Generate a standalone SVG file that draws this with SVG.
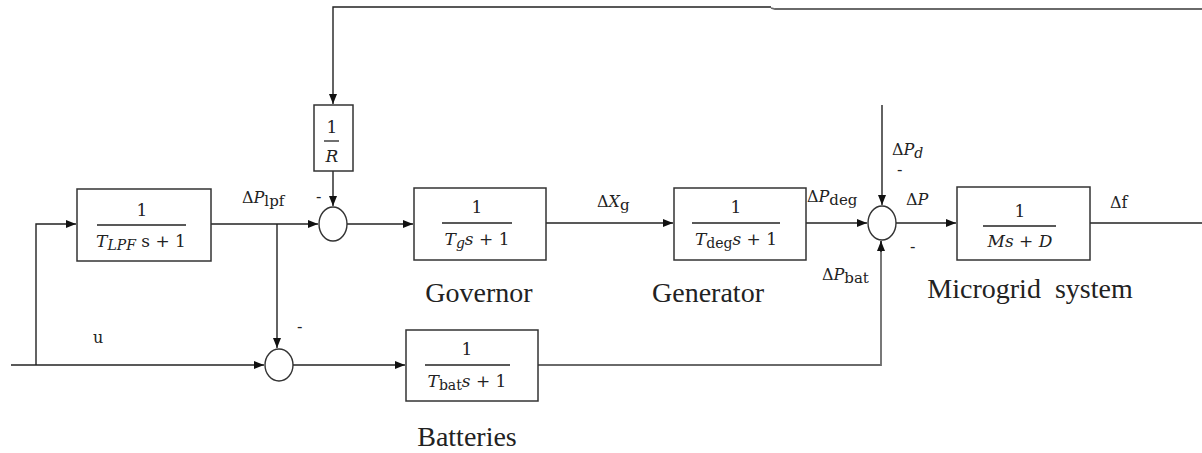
<svg xmlns="http://www.w3.org/2000/svg" width="1202" height="453" viewBox="0 0 1202 453">
<defs>
<marker id="arr" viewBox="0 0 10 8" refX="10" refY="4" markerWidth="10" markerHeight="8" markerUnits="userSpaceOnUse" orient="auto">
<path d="M0,0 L10,4 L0,8 z" fill="#111"/>
</marker>
<style>
.ln{fill:none;stroke:#222;stroke-width:1.4}
.gl{fill:none;stroke:#6a6a6a;stroke-width:1.8}
.box{fill:#fff;stroke:#333;stroke-width:1.5}
.sum{fill:#fff;stroke:#333;stroke-width:1.4}
.frac{stroke:#222;stroke-width:1.3}
.m{font-family:"DejaVu Serif","Liberation Serif",serif;font-size:16px;fill:#222}
.d{font-size:17px}
.i{font-style:italic}
.sb{font-size:14px}
.lb{font-size:16px}
.ls{font-size:15px}
.lbl{font-family:"Liberation Serif","Times New Roman",serif;font-size:28px;fill:#222}
</style>
</defs>
<g id="connectors">
<path class="ln" d="M11,365 H264" marker-end="url(#arr)"/>
<path class="ln" d="M36,365 V224 H76" marker-end="url(#arr)"/>
<path class="ln" d="M211,224 H318" marker-end="url(#arr)"/>
<path class="ln" d="M277,224 V348" marker-end="url(#arr)"/>
<path class="ln" d="M771,7 H333 V104" marker-end="url(#arr)"/>
<path class="gl" d="M771,8 L775,9 H1202"/>
<path class="ln" d="M333,171 V206" marker-end="url(#arr)"/>
<path class="ln" d="M347,224 H413" marker-end="url(#arr)"/>
<path class="ln" d="M546,223 H673" marker-end="url(#arr)"/>
<path class="ln" d="M806,223 H867" marker-end="url(#arr)"/>
<path class="ln" d="M882,105 V205" marker-end="url(#arr)"/>
<path class="ln" d="M293,365 H405" marker-end="url(#arr)"/>
<path class="gl" d="M538,365 H881 V241"/>
<path class="ln" d="M881,252 V241" marker-end="url(#arr)"/>
<path class="ln" d="M896,223 H956" marker-end="url(#arr)"/>
<path class="ln" d="M1090,223 H1202"/>
</g>
<g id="sum1"><ellipse class="sum" cx="333" cy="224" rx="14" ry="17"/></g>
<g id="sum2"><ellipse class="sum" cx="279" cy="365" rx="14" ry="16"/></g>
<g id="sum3"><ellipse class="sum" cx="882" cy="223" rx="14" ry="17"/></g>
<g id="lpf">
<rect class="box" x="77" y="189" width="134" height="72"/>
<text class="m d" x="142" y="216" text-anchor="middle">1</text>
<line class="frac" x1="97" y1="225" x2="186" y2="225"/>
<text class="m d" x="141" y="247" text-anchor="middle" xml:space="preserve"><tspan class="i">T</tspan><tspan class="i sb" dy="3">LPF</tspan><tspan dy="-3"> s + 1</tspan></text>
</g>
<g id="rgain">
<rect class="box" x="314" y="105" width="39" height="66"/>
<text class="m d" x="332" y="133" text-anchor="middle">1</text>
<line class="frac" x1="324" y1="141" x2="339" y2="141"/>
<text class="m d i" x="332" y="162" text-anchor="middle">R</text>
</g>
<g id="governor">
<rect class="box" x="414" y="188" width="132" height="72"/>
<text class="m d" x="477" y="213" text-anchor="middle">1</text>
<line class="frac" x1="442" y1="223" x2="512" y2="223"/>
<text class="m d" x="477" y="245" text-anchor="middle"><tspan class="i">T</tspan><tspan class="i sb" dy="3">g</tspan><tspan class="i" dy="-3">s</tspan> + 1</text>
<text class="lbl" x="479" y="302" text-anchor="middle">Governor</text>
</g>
<g id="generator">
<rect class="box" x="674" y="188" width="132" height="72"/>
<text class="m d" x="736" y="213" text-anchor="middle">1</text>
<line class="frac" x1="692" y1="223" x2="780" y2="223"/>
<text class="m d" x="736" y="245" text-anchor="middle"><tspan class="i">T</tspan><tspan class="sb" dy="3">deg</tspan><tspan class="i" dy="-3">s</tspan> + 1</text>
<text class="lbl" x="708" y="302" text-anchor="middle">Generator</text>
</g>
<g id="batteries">
<rect class="box" x="406" y="330" width="132" height="71"/>
<text class="m d" x="467" y="355" text-anchor="middle">1</text>
<line class="frac" x1="425" y1="365" x2="510" y2="365"/>
<text class="m d" x="467" y="387" text-anchor="middle"><tspan class="i">T</tspan><tspan class="sb" dy="3">bat</tspan><tspan class="i" dy="-3">s</tspan> + 1</text>
<text class="lbl" x="467" y="446" text-anchor="middle">Batteries</text>
</g>
<g id="microgrid">
<rect class="box" x="957" y="187" width="133" height="73"/>
<text class="m d" x="1020" y="217" text-anchor="middle">1</text>
<line class="frac" x1="983" y1="226" x2="1056" y2="226"/>
<text class="m d" x="1020" y="247" text-anchor="middle"><tspan class="i">Ms</tspan> + <tspan class="i">D</tspan></text>
<text class="lbl" x="1030" y="298" text-anchor="middle" xml:space="preserve">Microgrid  system</text>
</g>
<g id="labels">
<text class="m lb" x="242" y="203">Δ<tspan class="i">P</tspan><tspan class="ls" dy="3">lpf</tspan></text>
<text class="m" x="316" y="202">-</text>
<text class="m" x="297" y="332">-</text>
<text class="m lb" x="93" y="343">u</text>
<text class="m lb" x="597" y="207">Δ<tspan class="i">X</tspan><tspan class="ls" dy="3">g</tspan></text>
<text class="m lb" x="807" y="202">Δ<tspan class="i">P</tspan><tspan class="ls" dy="3">deg</tspan></text>
<text class="m lb" x="892" y="155">Δ<tspan class="i">P</tspan><tspan class="sb i" dy="3">d</tspan></text>
<text class="m" x="897" y="175">-</text>
<text class="m lb" x="906" y="205">Δ<tspan class="i">P</tspan></text>
<text class="m" x="910" y="252">-</text>
<text class="m lb" x="822" y="280">Δ<tspan class="i">P</tspan><tspan class="ls" dy="3">bat</tspan></text>
<text class="m lb" x="1110" y="208">Δf</text>
</g>
</svg>
